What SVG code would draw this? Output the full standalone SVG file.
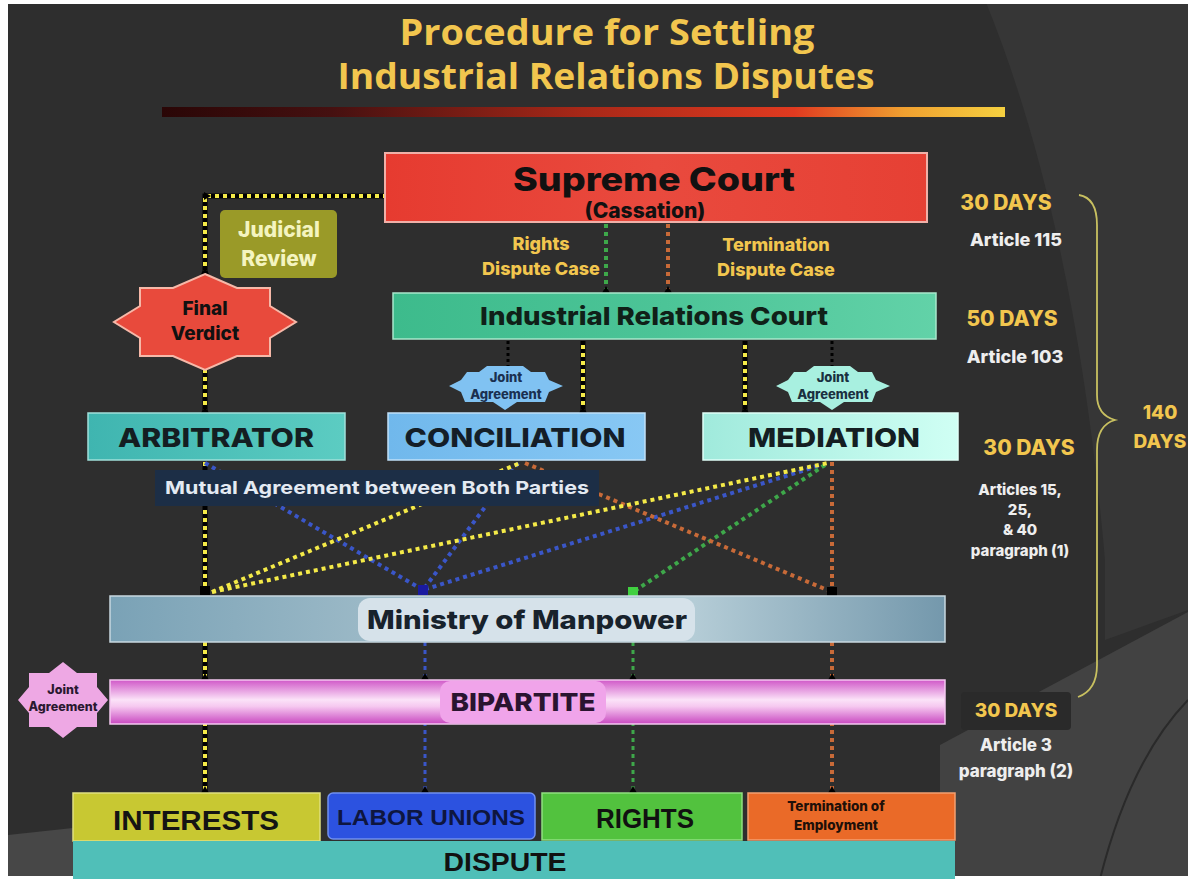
<svg xmlns="http://www.w3.org/2000/svg" width="1188" height="879" viewBox="0 0 1188 879">
<defs>
<linearGradient id="gBar" x1="0" y1="0" x2="1" y2="0">
<stop offset="0" stop-color="#2a0606"/><stop offset="0.2" stop-color="#451010"/><stop offset="0.5" stop-color="#a82818"/><stop offset="0.75" stop-color="#e03a20"/><stop offset="0.88" stop-color="#f0a030"/><stop offset="1" stop-color="#f5d040"/>
</linearGradient>
<linearGradient id="gIrc" x1="0" y1="0" x2="1" y2="0"><stop offset="0" stop-color="#3dbb8c"/><stop offset="0.5" stop-color="#4cc497"/><stop offset="1" stop-color="#62d2a8"/></linearGradient>
<linearGradient id="gArb" x1="0" y1="0" x2="1" y2="0"><stop offset="0" stop-color="#3fb5b0"/><stop offset="1" stop-color="#5cccc2"/></linearGradient>
<linearGradient id="gCon" x1="0" y1="0" x2="1" y2="0"><stop offset="0" stop-color="#70b8ec"/><stop offset="1" stop-color="#88c8f4"/></linearGradient>
<linearGradient id="gMed" x1="0" y1="0" x2="1" y2="0"><stop offset="0" stop-color="#a0eadc"/><stop offset="1" stop-color="#d0fff4"/></linearGradient>
<linearGradient id="gMom" x1="0" y1="0" x2="1" y2="0"><stop offset="0" stop-color="#7aa2b6"/><stop offset="0.3" stop-color="#9ab8c6"/><stop offset="0.7" stop-color="#b4ccd6"/><stop offset="1" stop-color="#7498ac"/></linearGradient>
<linearGradient id="gBip" x1="0" y1="0" x2="0" y2="1"><stop offset="0" stop-color="#d058c8"/><stop offset="0.45" stop-color="#fbe2f8"/><stop offset="0.6" stop-color="#f6c8f0"/><stop offset="1" stop-color="#c848c0"/></linearGradient>
<linearGradient id="gSc" x1="0" y1="0" x2="1" y2="0"><stop offset="0" stop-color="#e63b30"/><stop offset="0.5" stop-color="#e94a3e"/><stop offset="1" stop-color="#e64034"/></linearGradient>
<polygon id="tri" points="0,-4 4,3 -4,3" fill="#000"/>
</defs>
<style>
.b{font-family:Inter,"Open Sans","Liberation Sans",sans-serif;font-weight:800;text-anchor:middle}
.c{font-family:"Liberation Sans",Arial,sans-serif;font-weight:700;text-anchor:middle}
.y{fill:#f2c64e}
.w{fill:#eeeeee}
.yl{stroke:#f4ea48;stroke-width:4;stroke-dasharray:4 4;fill:none}
.yb{stroke:#000;stroke-width:5;fill:none}
.bl{stroke:#3a56c8;stroke-width:4;stroke-dasharray:4 4;fill:none}
.gl{stroke:#3ea84a;stroke-width:4;stroke-dasharray:4 4;fill:none}
.ol{stroke:#c86a38;stroke-width:4;stroke-dasharray:4 4;fill:none}
.kl{stroke:#000;stroke-width:3;stroke-dasharray:3 3;fill:none}
</style>

<!-- background -->
<rect x="0" y="0" width="1188" height="879" fill="#2e2e2e"/>
<path d="M985,0 Q1075,220 1105,560 L1105,640 L1188,610 L1188,0 Z" fill="#363636"/>
<path d="M940,745 L1188,612 L1188,879 L940,879 Z" fill="#424242"/>
<path d="M1100,879 Q1130,760 1188,700" stroke="#2a2a2a" stroke-width="2" fill="none"/>
<path d="M8,835 L73,828 L73,879 L8,879 Z" fill="#474747"/>
<rect x="0" y="0" width="8" height="879" fill="#ffffff"/>
<rect x="0" y="0" width="1188" height="4" fill="#ffffff"/>
<rect x="0" y="876" width="1188" height="3" fill="#ffffff"/>

<!-- title -->
<g id="title">
<text class="b y" x="607" y="45" font-size="35" textLength="415" lengthAdjust="spacingAndGlyphs" style="font-family:'Open Sans',Inter,sans-serif;font-weight:700">Procedure for Settling</text>
<text class="b y" x="606" y="89" font-size="35" textLength="537" lengthAdjust="spacingAndGlyphs" style="font-family:'Open Sans',Inter,sans-serif;font-weight:700">Industrial Relations Disputes</text>
<rect x="162" y="107" width="843" height="10" fill="url(#gBar)"/>
</g>

<!-- connectors -->
<g id="connectors">
<path class="yb" d="M205,274 V196 H385"/><path class="yl" d="M205,274 V196 H385"/>
<path class="yb" d="M205,413 V370"/><path class="yl" d="M205,413 V370"/>
<path class="gl" d="M606,292 V224"/>
<path class="ol" d="M668,292 V224"/>
<path class="yb" d="M583,413 V341"/><path class="yl" d="M583,413 V341"/>
<path class="yb" d="M745,413 V341"/><path class="yl" d="M745,413 V341"/>
<path class="kl" d="M508,341 V366"/>
<path class="kl" d="M832,341 V366"/>
<path class="yb" d="M205,462 V593"/><path class="yl" d="M205,462 V593"/>
<path class="bl" d="M205,463 L423,590"/>
<path class="bl" d="M518,463 L423,590"/>
<path class="bl" d="M818,466 L423,590"/>
<path class="gl" d="M825,465 L633,592"/>
<path class="ol" d="M525,463 L832,592"/>
<path class="ol" d="M832,462 V592"/>
<path class="yl" d="M212,592 L520,463"/>
<path class="yl" d="M212,592 L828,463"/>
<path class="yb" d="M205,642 V793"/><path class="yl" d="M205,642 V793"/>
<path class="bl" d="M425,642 V793" style="stroke-width:3"/>
<path class="gl" d="M633,642 V793" style="stroke-width:3"/>
<path class="ol" d="M832,642 V793"/>
<use href="#tri" x="205" y="271"/>
<use href="#tri" x="207" y="196" transform="rotate(90 207 196)"/>
<use href="#tri" x="205" y="410"/>
<use href="#tri" x="606" y="290"/>
<use href="#tri" x="668" y="290"/>
<use href="#tri" x="583" y="410"/>
<use href="#tri" x="745" y="410"/>
<use href="#tri" x="205" y="677"/>
<use href="#tri" x="425" y="677"/>
<use href="#tri" x="633" y="677"/>
<use href="#tri" x="832" y="677"/>
<use href="#tri" x="205" y="790"/>
<use href="#tri" x="425" y="790"/>
<use href="#tri" x="633" y="790"/>
<use href="#tri" x="832" y="790"/>
<rect x="200" y="586" width="10" height="9" fill="#000"/>
<rect x="418" y="585" width="10" height="10" fill="#1a1aa0"/>
<rect x="628" y="587" width="10" height="9" fill="#40d040"/>
<rect x="827" y="587" width="10" height="9" fill="#000"/>
</g>

<!-- nodes -->
<g id="supreme-court">
<rect x="385" y="153" width="542" height="69" fill="url(#gSc)" stroke="#f0b0a8" stroke-width="2"/>
<text class="b" x="654" y="191" font-size="33" fill="#111" textLength="282" lengthAdjust="spacingAndGlyphs">Supreme Court</text>
<text class="b" x="645" y="218" font-size="21" fill="#111">(Cassation)</text>
</g>
<g id="rights-label">
<text class="b y" x="541" y="250" font-size="18">Rights</text>
<text class="b y" x="541" y="275" font-size="18">Dispute Case</text>
</g>
<g id="termination-label">
<text class="b y" x="776" y="251" font-size="18">Termination</text>
<text class="b y" x="776" y="276" font-size="18">Dispute Case</text>
</g>
<g id="judicial-review">
<rect x="220" y="210" width="117" height="68" rx="5" fill="#9a9a28"/>
<text class="b" x="279" y="237" font-size="21" fill="#f4f4c0">Judicial</text>
<text class="b" x="279" y="266" font-size="21" fill="#f4f4c0">Review</text>
</g>
<g id="final-verdict">
<polygon points="205,274 237,288 270,288 270,306 296,322 270,338 270,356 237,356 205,370 173,356 140,356 140,338 114,322 140,306 140,288 173,288" fill="#e84a3c" stroke="#f6b8a8" stroke-width="2"/>
<text class="b" x="205" y="315" font-size="19" fill="#111">Final</text>
<text class="b" x="205" y="340" font-size="19" fill="#111">Verdict</text>
</g>
<g id="irc">
<rect x="393" y="293" width="543" height="46" fill="url(#gIrc)" stroke="#a8e8cc" stroke-width="1.5"/>
<text class="b" x="654" y="325" font-size="25" fill="#102018" textLength="348" lengthAdjust="spacingAndGlyphs">Industrial Relations Court</text>
</g>
<g id="joint-conciliation">
<path d="M467,372 L479,372 L487,366 L523,366 L531,372 L545,372 L549,380 L563,386 L549,392 L545,402 L517,402 L505,410 L493,402 L465,402 L461,392 L449,386 L461,380 Z" fill="#80c2f2"/>
<text class="b" x="506" y="382" font-size="13" fill="#1a3050">Joint</text>
<text class="b" x="506" y="399" font-size="13" fill="#1a3050">Agreement</text>
</g>
<g id="joint-mediation">
<path d="M794,372 L806,372 L814,366 L850,366 L858,372 L872,372 L876,380 L890,386 L876,392 L872,402 L844,402 L832,410 L820,402 L792,402 L788,392 L776,386 L788,380 Z" fill="#a8f0e0"/>
<text class="b" x="833" y="382" font-size="13" fill="#1a3040">Joint</text>
<text class="b" x="833" y="399" font-size="13" fill="#1a3040">Agreement</text>
</g>
<g id="arbitrator">
<rect x="88" y="413" width="257" height="47" fill="url(#gArb)" stroke="#a0e0da" stroke-width="1.5"/>
<text class="b" x="216" y="447" font-size="26" fill="#141e22" textLength="196" lengthAdjust="spacingAndGlyphs">ARBITRATOR</text>
</g>
<g id="conciliation">
<rect x="388" y="413" width="257" height="47" fill="url(#gCon)" stroke="#c0e0f8" stroke-width="1.5"/>
<text class="b" x="515" y="447" font-size="26" fill="#141e28" textLength="221" lengthAdjust="spacingAndGlyphs">CONCILIATION</text>
</g>
<g id="mediation">
<rect x="703" y="413" width="255" height="47" fill="url(#gMed)" stroke="#e0fff8" stroke-width="1.5"/>
<text class="b" x="834" y="447" font-size="26" fill="#141e22" textLength="172" lengthAdjust="spacingAndGlyphs">MEDIATION</text>
</g>
<g id="mutual-agreement">
<rect x="155" y="470" width="444" height="36" fill="#1c2e46"/>
<text class="b" x="377" y="494" font-size="18" fill="#e4eaf2" style="font-weight:700" textLength="424" lengthAdjust="spacingAndGlyphs">Mutual Agreement between Both Parties</text>
</g>
<g id="ministry">
<rect x="110" y="596" width="835" height="46" fill="url(#gMom)" stroke="#c8d8e0" stroke-width="1.5"/>
<rect x="358" y="598" width="337" height="43" rx="12" fill="#d6e2ea"/>
<text class="b" x="527" y="629" font-size="26" fill="#18222c" textLength="320" lengthAdjust="spacingAndGlyphs">Ministry of Manpower</text>
</g>
<g id="bipartite">
<rect x="110" y="680" width="835" height="44" fill="url(#gBip)" stroke="#f4c8f0" stroke-width="1.5"/>
<rect x="440" y="681" width="166" height="42" rx="10" fill="#f0a4ea"/>
<text class="b" x="523" y="711" font-size="25" fill="#2a1430" textLength="145" lengthAdjust="spacingAndGlyphs">BIPARTITE</text>
</g>
<g id="joint-bipartite">
<polygon points="63,662 77,673 97,673 97,687 108,700 97,713 97,727 77,727 63,738 49,727 29,727 29,713 18,700 29,687 29,673 49,673" fill="#eea8e4"/>
<text class="b" x="63" y="694" font-size="12.5" fill="#2a1830">Joint</text>
<text class="b" x="63" y="711" font-size="12.5" fill="#2a1830">Agreement</text>
</g>
<g id="interests">
<rect x="73" y="793" width="247" height="48" fill="#c8c832" stroke="#e0e080" stroke-width="1.5"/>
<text class="c" x="196" y="830" font-size="27" fill="#141414" textLength="166" lengthAdjust="spacingAndGlyphs">INTERESTS</text>
</g>
<g id="labor-unions">
<rect x="328" y="793" width="207" height="46" rx="5" fill="#2c52e0" stroke="#7090f0" stroke-width="1.5"/>
<text class="c" x="431" y="825" font-size="22" fill="#0e1640" textLength="188" lengthAdjust="spacingAndGlyphs">LABOR UNIONS</text>
</g>
<g id="rights">
<rect x="542" y="793" width="200" height="47" fill="#52c23e" stroke="#90e080" stroke-width="1.5"/>
<text class="c" x="645" y="828" font-size="27" fill="#111" textLength="98" lengthAdjust="spacingAndGlyphs">RIGHTS</text>
</g>
<g id="termination">
<rect x="748" y="793" width="207" height="47" fill="#ea6a28" stroke="#f4a070" stroke-width="1.5"/>
<text class="b" x="836" y="811" font-size="13.5" fill="#201008">Termination of</text>
<text class="b" x="836" y="830" font-size="13.5" fill="#201008">Employment</text>
</g>
<g id="dispute">
<rect x="73" y="841" width="882" height="38" fill="#50bfb8"/>
<text class="c" x="505" y="871" font-size="26" fill="#111" textLength="123" lengthAdjust="spacingAndGlyphs">DISPUTE</text>
</g>

<!-- timeline -->
<g id="timeline">
<text class="b y" x="1006" y="210" font-size="21">30 DAYS</text>
<text class="b w" x="1016" y="246" font-size="18">Article 115</text>
<text class="b y" x="1012" y="326" font-size="21">50 DAYS</text>
<text class="b w" x="1015" y="363" font-size="18">Article 103</text>
<text class="b y" x="1029" y="455" font-size="21">30 DAYS</text>
<text class="b w" x="1020" y="495" font-size="15">Articles 15,</text>
<text class="b w" x="1020" y="515" font-size="15">25,</text>
<text class="b w" x="1020" y="535" font-size="15">&amp; 40</text>
<text class="b w" x="1020" y="556" font-size="15">paragraph (1)</text>
<rect x="961" y="692" width="110" height="38" rx="4" fill="#2a2a2a"/>
<text class="b y" x="1016" y="717" font-size="19">30 DAYS</text>
<text class="b w" x="1016" y="751" font-size="17">Article 3</text>
<text class="b w" x="1016" y="777" font-size="17">paragraph (2)</text>
<text class="b y" x="1160" y="419" font-size="19">140</text>
<text class="b y" x="1160" y="448" font-size="19">DAYS</text>
<path d="M1079,195 Q1097,198 1097,225 L1097,395 Q1097,415 1115,420 Q1097,425 1097,450 L1097,665 Q1097,690 1078,697" stroke="#c8c060" stroke-width="1.8" fill="none"/>
</g>
</svg>
